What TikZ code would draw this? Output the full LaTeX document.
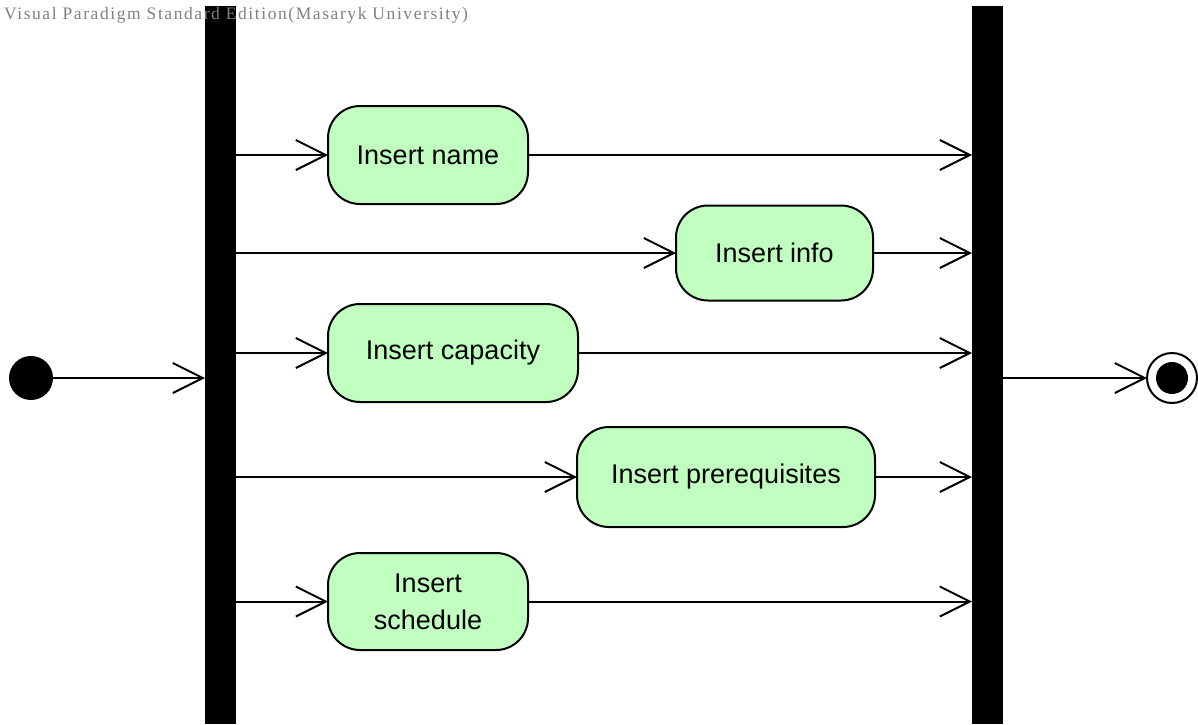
\documentclass[tikz,border=0pt]{standalone}
\usepackage{fontspec}
\setmainfont{Liberation Sans}
\newfontfamily\wmfont[LetterSpace=9]{Liberation Serif}
\usetikzlibrary{arrows.meta}
\definecolor{actfill}{RGB}{192,255,192}
\definecolor{wmgray}{RGB}{128,128,128}
\begin{document}
\begin{tikzpicture}[x=1pt,y=-1pt,
  bar/.style={fill=black,draw=none,inner sep=0pt,outer sep=0pt,minimum width=31pt},
  act/.style={draw=black,line width=2pt,fill=actfill,rounded corners=32pt,inner sep=0pt,outer sep=0pt,
    font=\fontsize{27}{37}\selectfont,align=center},
  arr/.style={line width=2pt,-{Straight Barb[length=30pt,width=30pt,line width=2pt]}}]
\useasboundingbox[fill=white] (0,0) rectangle (1198,724);
\node[bar,minimum height=718pt] (lbar) at (220.5,365) {};
\node[bar,minimum height=718pt] (rbar) at (987.5,365) {};
\node[circle,fill=black,minimum size=44pt,inner sep=0pt,outer sep=0pt] (start) at (31,378) {};
\node[circle,draw=black,line width=2pt,fill=white,minimum size=50pt,inner sep=0pt,outer sep=0pt] (end) at (1172,378) {};
\node[circle,fill=black,minimum size=32pt,inner sep=0pt] (endin) at (end.center) {};
\node[act,minimum width=200pt,minimum height=98pt] (n1) at (428,155) {Insert name};
\node[act,minimum width=197pt,minimum height=95pt] (n2) at (774.5,253) {Insert info};
\node[act,minimum width=250pt,minimum height=98pt] (n3) at (453,353) {Insert capacity};
\node[act,minimum width=298pt,minimum height=100pt] (n4) at (726,477) {Insert prerequisites};
\node[act,minimum width=200pt,minimum height=97pt] (n5) at (428,601.5) {Insert\\schedule};
\draw[arr] (start.east) -- (start.east -| lbar.west);
\foreach \n in {n1,n2,n3,n4,n5}{
  \draw[arr] (lbar.east |- \n.west) -- (\n.west);
  \draw[arr] (\n.east) -- (\n.east -| rbar.west);
}
\draw[arr] (rbar.east |- end.west) -- (end.west);
\node[anchor=base west,inner sep=0pt,text=wmgray,font=\wmfont\fontsize{17.5}{17.5}\selectfont] (wm) at (4,19) {Visual Paradigm Standard Edition(Masaryk University)};
\end{tikzpicture}
\end{document}
